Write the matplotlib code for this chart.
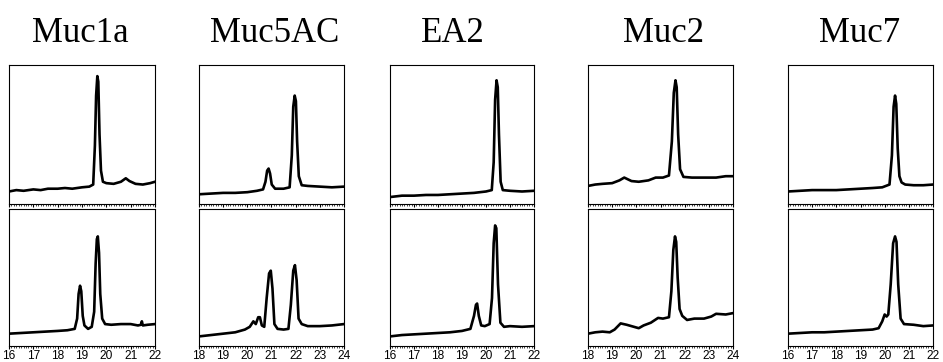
import matplotlib
matplotlib.use("Agg")
import matplotlib.pyplot as plt
from matplotlib.ticker import MultipleLocator

# ---- data (x = elution time, y = fraction of panel height) ----
names = ["Muc1a", "Muc5AC", "EA2", "Muc2", "Muc7"]
xranges = [(16, 22), (18, 24), (16, 22), (18, 24), (16, 22)]

muc1a_top_x = [16.0, 16.3, 16.6, 17.0, 17.3, 17.6, 18.0, 18.3, 18.6, 19.0, 19.3, 19.46, 19.53,
               19.58, 19.63, 19.67, 19.72, 19.78, 19.86, 20.0, 20.3, 20.6, 20.8, 20.95, 21.2,
               21.5, 21.8, 22.0]
muc1a_top_y = [0.09, 0.10, 0.095, 0.105, 0.10, 0.11, 0.11, 0.115, 0.11, 0.12, 0.125, 0.14, 0.42,
               0.78, 0.92, 0.88, 0.50, 0.24, 0.16, 0.15, 0.145, 0.16, 0.185, 0.165, 0.145,
               0.14, 0.15, 0.16]
muc1a_bot_x = [16.0, 16.5, 17.0, 17.5, 18.0, 18.4, 18.7, 18.8, 18.86, 18.92, 18.97, 19.03, 19.1,
               19.25, 19.4, 19.5, 19.56, 19.61, 19.65, 19.7, 19.75, 19.83, 19.95, 20.2, 20.6,
               21.0, 21.3, 21.42, 21.46, 21.5, 21.7, 22.0]
muc1a_bot_y = [0.09, 0.095, 0.10, 0.105, 0.11, 0.115, 0.125, 0.20, 0.38, 0.44, 0.40, 0.22, 0.15,
               0.125, 0.14, 0.25, 0.60, 0.78, 0.80, 0.68, 0.38, 0.20, 0.16, 0.155, 0.16,
               0.16, 0.15, 0.155, 0.18, 0.15, 0.155, 0.16]

muc5ac_top_x = [18.0, 18.5, 19.0, 19.5, 20.0, 20.4, 20.65, 20.75, 20.82, 20.88, 20.94, 21.01,
                21.15, 21.5, 21.75, 21.84, 21.9, 21.96, 22.01, 22.06, 22.13, 22.25, 22.5, 23.0,
                23.5, 24.0]
muc5ac_top_y = [0.07, 0.075, 0.08, 0.08, 0.085, 0.095, 0.105, 0.16, 0.24, 0.255, 0.22, 0.14,
                0.11, 0.11, 0.12, 0.35, 0.70, 0.78, 0.74, 0.45, 0.20, 0.135, 0.13, 0.125,
                0.12, 0.125]
muc5ac_bot_x = [18.0, 18.5, 19.0, 19.5, 19.9, 20.1, 20.25, 20.35, 20.45, 20.52, 20.6, 20.7, 20.8,
                20.9, 20.97, 21.04, 21.12, 21.25, 21.5, 21.7, 21.8, 21.9, 21.97, 22.04, 22.12,
                22.25, 22.5, 23.0, 23.5, 24.0]
muc5ac_bot_y = [0.07, 0.08, 0.09, 0.10, 0.12, 0.14, 0.18, 0.16, 0.21, 0.21, 0.15, 0.14, 0.35,
                0.53, 0.55, 0.42, 0.16, 0.125, 0.12, 0.125, 0.30, 0.55, 0.59, 0.48, 0.20,
                0.16, 0.145, 0.145, 0.15, 0.16]

ea2_top_x = [16.0, 16.5, 17.0, 17.5, 18.0, 18.5, 19.0, 19.5, 20.0, 20.24, 20.32, 20.38, 20.44,
             20.49, 20.54, 20.61, 20.7, 21.0, 21.5, 22.0]
ea2_top_y = [0.05, 0.06, 0.06, 0.065, 0.065, 0.07, 0.075, 0.08, 0.09, 0.10, 0.30, 0.75, 0.89,
             0.84, 0.50, 0.16, 0.10, 0.095, 0.09, 0.095]
ea2_bot_x = [16.0, 16.5, 17.0, 17.5, 18.0, 18.5, 19.0, 19.35, 19.50, 19.58, 19.63, 19.70, 19.80,
             19.95, 20.15, 20.25, 20.32, 20.38, 20.43, 20.50, 20.6, 20.75, 21.0, 21.5, 22.0]
ea2_bot_y = [0.07, 0.08, 0.085, 0.09, 0.095, 0.10, 0.11, 0.125, 0.22, 0.30, 0.31, 0.22, 0.15,
             0.145, 0.16, 0.35, 0.75, 0.88, 0.86, 0.45, 0.17, 0.14, 0.145, 0.14, 0.145]

muc2_top_x = [18.0, 18.3, 18.6, 19.0, 19.3, 19.5, 19.8, 20.1, 20.5, 20.8, 21.1, 21.35, 21.47,
              21.55, 21.62, 21.67, 21.73, 21.81, 21.95, 22.3, 22.8, 23.3, 23.7, 24.0]
muc2_top_y = [0.13, 0.14, 0.145, 0.15, 0.17, 0.19, 0.165, 0.16, 0.17, 0.19, 0.19, 0.205, 0.45,
              0.80, 0.89, 0.84, 0.50, 0.25, 0.195, 0.19, 0.19, 0.19, 0.20, 0.20]
muc2_bot_x = [18.0, 18.3, 18.6, 18.9, 19.1, 19.35, 19.6, 19.9, 20.1, 20.3, 20.6, 20.9, 21.1,
              21.35, 21.45, 21.53, 21.6, 21.65, 21.71, 21.79, 21.9, 22.1, 22.4, 22.8, 23.1,
              23.3, 23.7, 24.0]
muc2_bot_y = [0.09, 0.10, 0.105, 0.10, 0.12, 0.165, 0.155, 0.14, 0.13, 0.15, 0.17, 0.205, 0.20,
              0.21, 0.40, 0.70, 0.80, 0.76, 0.50, 0.27, 0.22, 0.19, 0.20, 0.20, 0.215,
              0.235, 0.23, 0.24]

muc7_top_x = [16.0, 16.5, 17.0, 17.5, 18.0, 18.5, 19.0, 19.5, 19.9, 20.2, 20.3, 20.37, 20.43,
              20.48, 20.54, 20.61, 20.7, 20.85, 21.2, 21.6, 22.0]
muc7_top_y = [0.09, 0.095, 0.10, 0.10, 0.10, 0.105, 0.11, 0.115, 0.12, 0.14, 0.35, 0.70, 0.78,
              0.72, 0.40, 0.20, 0.155, 0.14, 0.135, 0.135, 0.14]
muc7_bot_x = [16.0, 16.5, 17.0, 17.5, 18.0, 18.5, 19.0, 19.5, 19.75, 19.9, 20.0, 20.08, 20.15,
              20.25, 20.35, 20.43, 20.49, 20.56, 20.66, 20.8, 21.2, 21.6, 22.0]
muc7_bot_y = [0.09, 0.095, 0.10, 0.10, 0.105, 0.11, 0.115, 0.12, 0.13, 0.18, 0.23, 0.215, 0.23,
              0.45, 0.75, 0.80, 0.76, 0.45, 0.20, 0.16, 0.155, 0.145, 0.15]

top_traces = [(muc1a_top_x, muc1a_top_y), (muc5ac_top_x, muc5ac_top_y), (ea2_top_x, ea2_top_y),
              (muc2_top_x, muc2_top_y), (muc7_top_x, muc7_top_y)]
bot_traces = [(muc1a_bot_x, muc1a_bot_y), (muc5ac_bot_x, muc5ac_bot_y), (ea2_bot_x, ea2_bot_y),
              (muc2_bot_x, muc2_bot_y), (muc7_bot_x, muc7_bot_y)]

# ---- layout (pixels of the 943x362 reference) ----
W, H = 943, 362
col_px = [(9, 155), (199, 344), (390, 534), (588, 733), (788, 933)]
title_cx = [80, 275, 453, 663, 860]
rows_px = [(65, 204), (209, 346)]  # (top, bottom) in pixels

fig = plt.figure(figsize=(W / 100, H / 100), dpi=100)


def make_axes(col, row):
    x0, x1 = col_px[col]
    t, b = rows_px[row]
    return fig.add_axes([x0 / W, (H - b) / H, (x1 - x0) / W, (b - t) / H])


for i in range(5):
    for row, traces in enumerate([top_traces, bot_traces]):
        ax = make_axes(i, row)
        x, y = traces[i]
        ax.plot(x, y, color="black", lw=1.9, solid_joinstyle="round")
        ax.set_xlim(*xranges[i])
        ax.set_ylim(0, 1)
        ax.set_yticks([])
        ax.xaxis.set_major_locator(MultipleLocator(1))
        ax.xaxis.set_minor_locator(MultipleLocator(0.1))
        ax.tick_params(axis="x", which="major", direction="out", length=2.2, width=0.8, pad=0.4,
                       labelsize=8.6)
        ax.tick_params(axis="x", which="minor", direction="out", length=1.1, width=0.5)
        for s in ax.spines.values():
            s.set_linewidth(0.8)
        if row == 0:
            ax.set_xticklabels([])
        else:
            for lab in ax.get_xticklabels():
                lab.set_fontfamily("Liberation Sans")

    fig.text(title_cx[i] / W, 1 - 33 / H, names[i], ha="center", va="center",
             fontsize=25, family="Liberation Serif")

fig.savefig("out.png", dpi=100)
